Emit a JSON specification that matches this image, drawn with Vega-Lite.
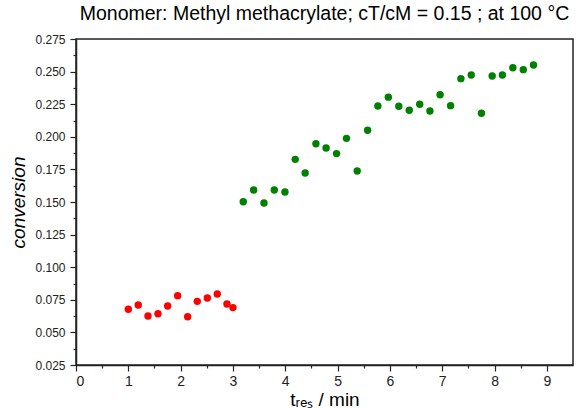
{
  "$schema": "https://vega.github.io/schema/vega-lite/v6.json",
  "width": 497,
  "height": 326,
  "autosize": {"type": "none"},
  "padding": {"left": 76, "top": 39, "right": 4, "bottom": 44},
  "background": "white",
  "config": {
    "font": "Liberation Sans",
    "view": {"stroke": "#222", "strokeWidth": 1.5},
    "axis": {"grid": false, "domainColor": "#222", "domainWidth": 1.5, "tickColor": "#222", "tickWidth": 1.2, "labelColor": "#222", "titleColor": "#000", "labelFont": "Liberation Sans", "titleFont": "Liberation Sans", "titleFontWeight": "normal"}
  },
  "title": {
    "text": "Monomer: Methyl methacrylate; cT/cM = 0.15 ; at 100 °C",
    "fontSize": 19.5,
    "font": "Liberation Sans",
    "fontWeight": "normal",
    "color": "#000",
    "anchor": "middle",
    "offset": 9
  },
  "data": {
    "values": [
      {"t": 1.0, "conv": 0.0677, "phase": "a"},
      {"t": 1.19, "conv": 0.071, "phase": "a"},
      {"t": 1.376, "conv": 0.0626, "phase": "a"},
      {"t": 1.567, "conv": 0.0643, "phase": "a"},
      {"t": 1.752, "conv": 0.0702, "phase": "a"},
      {"t": 1.943, "conv": 0.0782, "phase": "a"},
      {"t": 2.134, "conv": 0.062, "phase": "a"},
      {"t": 2.318, "conv": 0.0738, "phase": "a"},
      {"t": 2.51, "conv": 0.0764, "phase": "a"},
      {"t": 2.70, "conv": 0.0794, "phase": "a"},
      {"t": 2.886, "conv": 0.0718, "phase": "a"},
      {"t": 3.0, "conv": 0.069, "phase": "a"},
      {"t": 3.197, "conv": 0.1502, "phase": "b"},
      {"t": 3.395, "conv": 0.1592, "phase": "b"},
      {"t": 3.593, "conv": 0.1492, "phase": "b"},
      {"t": 3.79, "conv": 0.1592, "phase": "b"},
      {"t": 3.994, "conv": 0.1577, "phase": "b"},
      {"t": 4.19, "conv": 0.1827, "phase": "b"},
      {"t": 4.38, "conv": 0.1722, "phase": "b"},
      {"t": 4.586, "conv": 0.1947, "phase": "b"},
      {"t": 4.78, "conv": 0.1914, "phase": "b"},
      {"t": 4.98, "conv": 0.1871, "phase": "b"},
      {"t": 5.17, "conv": 0.1988, "phase": "b"},
      {"t": 5.375, "conv": 0.1738, "phase": "b"},
      {"t": 5.574, "conv": 0.205, "phase": "b"},
      {"t": 5.77, "conv": 0.2236, "phase": "b"},
      {"t": 5.97, "conv": 0.2304, "phase": "b"},
      {"t": 6.17, "conv": 0.2234, "phase": "b"},
      {"t": 6.37, "conv": 0.2203, "phase": "b"},
      {"t": 6.57, "conv": 0.2249, "phase": "b"},
      {"t": 6.765, "conv": 0.2198, "phase": "b"},
      {"t": 6.96, "conv": 0.2323, "phase": "b"},
      {"t": 7.16, "conv": 0.2239, "phase": "b"},
      {"t": 7.357, "conv": 0.2446, "phase": "b"},
      {"t": 7.555, "conv": 0.2474, "phase": "b"},
      {"t": 7.75, "conv": 0.218, "phase": "b"},
      {"t": 7.955, "conv": 0.2466, "phase": "b"},
      {"t": 8.15, "conv": 0.2474, "phase": "b"},
      {"t": 8.35, "conv": 0.253, "phase": "b"},
      {"t": 8.55, "conv": 0.2515, "phase": "b"},
      {"t": 8.745, "conv": 0.2551, "phase": "b"}
    ]
  },
  "layer": [
    {
      "mark": {"type": "point", "opacity": 0},
      "encoding": {
        "x": {"field": "t", "type": "quantitative", "scale": {"domain": [0, 9.5], "nice": false, "zero": false},
          "axis": {"orient": "bottom", "values": [0.5, 1.5, 2.5, 3.5, 4.5, 5.5, 6.5, 7.5, 8.5], "labels": false, "domain": false, "tickSize": 3, "title": null}},
        "y": {"field": "conv", "type": "quantitative", "scale": {"domain": [0.025, 0.275], "nice": false, "zero": false},
          "axis": {"orient": "left", "values": [0.0375, 0.0625, 0.0875, 0.1125, 0.1375, 0.1625, 0.1875, 0.2125, 0.2375, 0.2625], "labels": false, "domain": false, "tickSize": 3, "title": null}}
      }
    },
    {
      "mark": {"type": "circle", "size": 55, "opacity": 1},
      "encoding": {
        "x": {"field": "t", "type": "quantitative",
          "axis": {"orient": "bottom", "values": [0, 1, 2, 3, 4, 5, 6, 7, 8, 9], "tickSize": 6, "labelFontSize": 14, "labelPadding": 3, "title": "tᵣₑₛ / min", "titleFontSize": 19, "titlePadding": 2}},
        "y": {"field": "conv", "type": "quantitative",
          "axis": {"orient": "left", "values": [0.025, 0.05, 0.075, 0.1, 0.125, 0.15, 0.175, 0.2, 0.225, 0.25, 0.275], "format": ".3f", "tickSize": 6, "labelFontSize": 12, "labelPadding": 5, "title": "conversion", "titleFontSize": 19, "titleFontStyle": "italic", "titlePadding": 6}},
        "color": {"field": "phase", "type": "nominal", "scale": {"domain": ["a", "b"], "range": ["#ff0000", "#008000"]}, "legend": null}
      }
    }
  ],
  "resolve": {"axis": {"x": "independent", "y": "independent"}}
}
